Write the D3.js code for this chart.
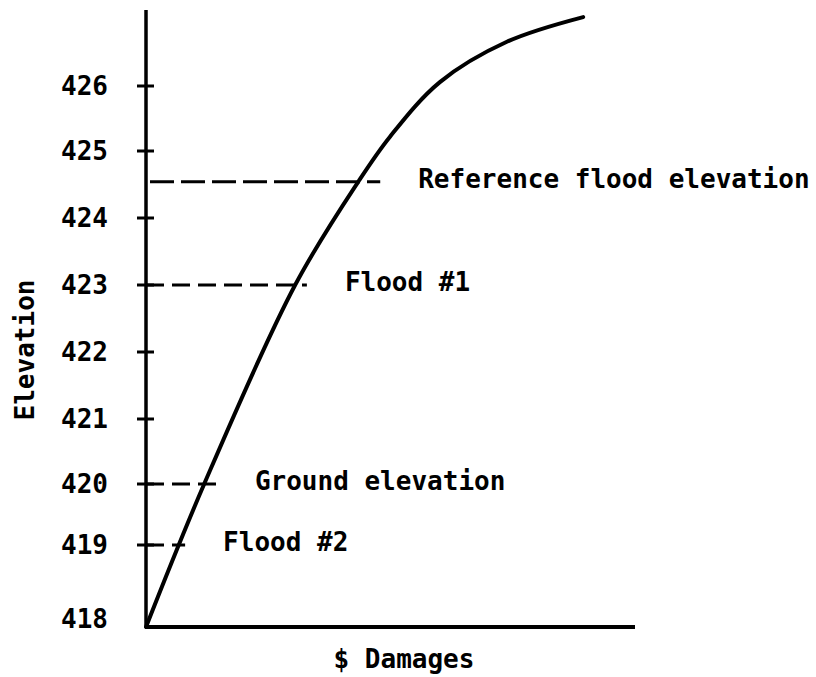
<!DOCTYPE html>
<html lang="en">
<head>
    <meta charset="UTF-8">
    <title>Elevation vs Damages</title>
    <script src="https://d3js.org/d3.v7.min.js"></script>
    <style>
        body { margin: 0; background: white; }
        text { font-family: "DejaVu Sans Mono", monospace; font-weight: bold; fill: black; }
    </style>
</head>
<body>
    <div id="chart"></div>
    <script>
        const width = 816, height = 677;

        // Elevation tick values on the y axis
        const elevationTicks = [418, 419, 420, 421, 422, 423, 424, 425, 426];

        // Damage curve (damages in arbitrary units, elevation in ft)
        const curveDamages = [0, 11.9, 30.5, 43.4, 49.9, 60.1, 73.8, 89.4];
        const curveElevation = [418, 420, 423, 424.54, 425.22, 426.06, 426.68, 427.06];

        // Reference lines (dashed) and their labels
        const refLabels = ["Reference flood elevation", "Flood #1", "Ground elevation", "Flood #2"];
        const refElevation = [424.54, 423, 420, 419];
        const refDamagesEnd = [47.9, 32.9, 14.5, 8.0];

        const svg = d3.select("#chart")
            .append("svg")
            .attr("width", width)
            .attr("height", height);

        // hand-drawn axis: tick spacing is not quite even, so use a piecewise scale
        const y = d3.scaleLinear()
            .domain(elevationTicks)
            .range([627, 545, 484, 419, 352, 285, 218, 151, 86]);

        const x = d3.scaleLinear()
            .domain([0, 100])
            .range([146, 635]);

        // y axis line
        svg.append("line")
            .attr("x1", x(0)).attr("x2", x(0))
            .attr("y1", y(427.17)).attr("y2", y(418))
            .attr("stroke", "black").attr("stroke-width", 3.5);

        // x axis line
        svg.append("line")
            .attr("x1", x(0) - 1).attr("x2", x(100))
            .attr("y1", y(418)).attr("y2", y(418))
            .attr("stroke", "black").attr("stroke-width", 4);

        // tick marks crossing the y axis (none at the origin)
        svg.selectAll(".tick")
            .data(elevationTicks.filter(d => d > 418))
            .enter()
            .append("line")
            .attr("class", "tick")
            .attr("x1", x(0) - 9).attr("x2", x(0) + 8)
            .attr("y1", d => y(d)).attr("y2", d => y(d))
            .attr("stroke", "black").attr("stroke-width", 3);

        svg.selectAll(".tick-label")
            .data(elevationTicks)
            .enter()
            .append("text")
            .attr("class", "tick-label")
            .attr("x", x(0) - 38)
            .attr("y", d => y(d) + (d === 418 ? 1 : 9))
            .attr("text-anchor", "end")
            .attr("font-size", "26px")
            .text(d => d);

        // dashed reference lines
        const refs = refLabels.map((label, i) => ({
            label: label,
            elev: refElevation[i],
            end: refDamagesEnd[i]
        }));

        svg.selectAll(".ref-line")
            .data(refs)
            .enter()
            .append("line")
            .attr("class", "ref-line")
            .attr("x1", (d, i) => i === 0 ? x(0) + 4 : x(0))
            .attr("x2", d => x(d.end))
            .attr("y1", d => y(d.elev)).attr("y2", d => y(d.elev))
            .attr("stroke", "black")
            .attr("stroke-width", 3)
            .attr("stroke-dasharray", (d, i) => i === 0 ? "24,7" : "18,8");

        svg.selectAll(".ref-label")
            .data(refs)
            .enter()
            .append("text")
            .attr("class", "ref-label")
            .attr("x", d => x(d.end) + 38)
            .attr("y", d => y(d.elev) + 6)
            .attr("font-size", "26px")
            .text(d => d.label);

        // damage curve
        const curveData = curveDamages.map((d, i) => [d, curveElevation[i]]);
        const line = d3.line()
            .x(d => x(d[0]))
            .y(d => y(d[1]))
            .curve(d3.curveCatmullRom.alpha(0.5));

        svg.append("path")
            .datum(curveData)
            .attr("d", line)
            .attr("fill", "none")
            .attr("stroke", "black")
            .attr("stroke-width", 4)
            .attr("stroke-linecap", "round");

        // axis titles
        svg.append("text")
            .attr("x", 404)
            .attr("y", 668)
            .attr("text-anchor", "middle")
            .attr("font-size", "26px")
            .text("$ Damages");

        svg.append("text")
            .attr("transform", "translate(34,350) rotate(-90)")
            .attr("text-anchor", "middle")
            .attr("font-size", "26px")
            .text("Elevation");
    </script>
</body>
</html>
